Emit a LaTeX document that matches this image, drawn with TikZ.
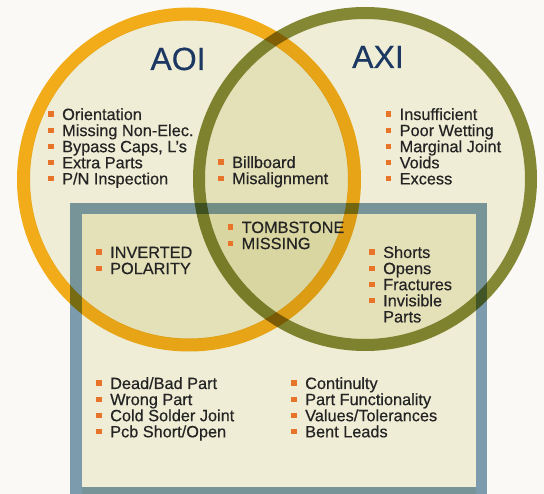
\documentclass[tikz,border=0pt]{standalone}
\usepackage{fontspec}
\setmainfont{Liberation Sans}[FakeBold=0.5]
\definecolor{bgc}{RGB}{250,249,245}
\definecolor{beige}{RGB}{244,243,222}
\definecolor{ringA}{RGB}{247,177,27}
\definecolor{ringB}{RGB}{135,140,56}
\definecolor{framec}{RGB}{127,160,182}
\definecolor{bul}{RGB}{232,116,42}
\definecolor{txt}{RGB}{36,36,36}
\definecolor{ttl}{RGB}{27,55,98}
\newcommand{\bitem}[1]{\hbox{\makebox[14pt][l]{\textcolor{bul}{\rule[3pt]{5.5pt}{5.5pt}}}#1}}
\newcommand{\bcont}[1]{\hbox{\kern14pt #1}}
\newcommand{\blist}[1]{\vtop{\baselineskip=16.1pt\lineskiplimit=-20pt\lineskip=0pt #1}}
\begin{document}
\begin{tikzpicture}[x=1pt,y=-1pt,
  lst/.style={anchor=base west, inner sep=0pt, text=txt,
    font=\fontsize{16.3}{16.1}\selectfont},
  ttlstyle/.style={anchor=base, inner sep=0pt, text=ttl,
    font=\fontsize{32}{36}\selectfont},
  ringAO/.style={draw=ringA, line width=13pt},
  ringBO/.style={draw=ringB, line width=12pt},
  framestyle/.style={draw=framec, line width=11.5pt, line join=miter},
  fillstyle/.style={fill=beige}]
\useasboundingbox (0,0) rectangle (544,494);
\fill[bgc] (0,0) rectangle (544,494);
\begin{scope}[blend mode=multiply]
  % fills
  \path[fillstyle] (189,179.5) circle[radius=159.5];
  \path[fillstyle] (365,179) circle[radius=160];
  \path[fillstyle] (81.5,214.5) rectangle (475.5,494);
  % frame
  \path[framestyle] (75.75,208.75) rectangle (481.25,492.5);
  % rings
  \path[ringAO] (189,179.5) circle[radius=165.5];
  \path[ringBO] (365,179) circle[radius=166];
\end{scope}
% titles
\node[ttlstyle] (aoi) at (178,70) {AOI};
\node[ttlstyle] (axi) at (378,68) {AXI};
% lists
\node[lst] (aoilist) at (48,120) {\blist{\bitem{Orientation}\bitem{Missing Non-Elec.}\bitem{Bypass Caps, L’s}\bitem{Extra Parts}\bitem{P/N Inspection}}};
\node[lst] (midlist) at (218,168) {\blist{\bitem{Billboard}\bitem{Misalignment}}};
\node[lst] (axilist) at (385.5,120) {\blist{\bitem{Insufficient}\bitem{Poor Wetting}\bitem{Marginal Joint}\bitem{Voids}\bitem{Excess}}};
\node[lst] (tomblist) at (227.5,233) {\blist{\bitem{TOMBSTONE}\bitem{MISSING}}};
\node[lst] (invlist) at (96,258) {\blist{\bitem{INVERTED}\bitem{POLARITY}}};
\node[lst] (shortlist) at (369,258) {\blist{\bitem{Shorts}\bitem{Opens}\bitem{Fractures}\bitem{Invisible}\bcont{Parts}}};
\node[lst] (botleft) at (96,389) {\blist{\bitem{Dead/Bad Part}\bitem{Wrong Part}\bitem{Cold Solder Joint}\bitem{Pcb Short/Open}}};
\node[lst] (botright) at (291,389) {\blist{\bitem{Continulty}\bitem{Part Functionality}\bitem{Values/Tolerances}\bitem{Bent Leads}}};
\end{tikzpicture}
\end{document}
